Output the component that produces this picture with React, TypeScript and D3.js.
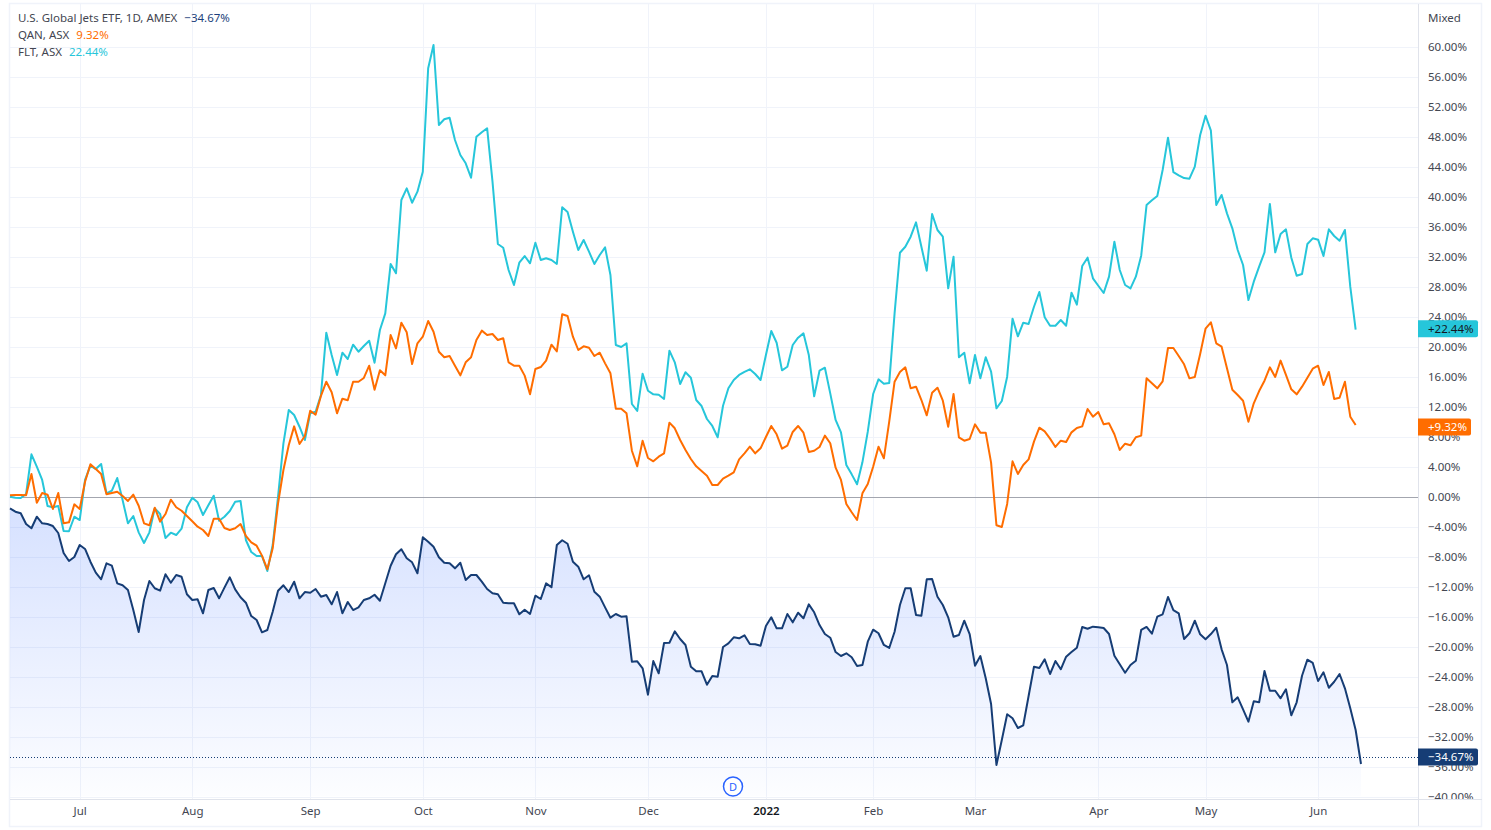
import React, { useEffect, useRef } from "react";
import * as d3 from "d3";

// percent change per trading day
const jetsValues = [
  -1.51, -1.96, -2.17, -3.6, -4.17, -2.63, -3.51, -3.6, -3.87, -4.8, -7.47, -8.53, -8.0, -6.4, -6.93, -8.63,
  -10.09, -10.97, -8.84, -9.16, -11.51, -11.77, -12.4, -15.07, -18.0, -13.73, -11.2, -12.17, -12.49, -10.31, -11.43, -10.4,
  -10.63, -12.97, -13.73, -13.64, -15.51, -12.4, -12.13, -13.51, -12.09, -10.71, -12.31, -13.37, -14.09, -15.87, -16.4, -18.04,
  -17.73, -15.29, -12.49, -11.77, -12.67, -11.29, -13.51, -12.67, -12.76, -12.27, -13.29, -13.07, -14.31, -12.67, -15.51, -14.0,
  -15.07, -14.71, -13.73, -13.51, -13.03, -13.83, -11.51, -9.16, -7.64, -6.97, -8.17, -8.71, -10.17, -5.37, -5.96, -6.63,
  -8.04, -8.76, -8.84, -9.51, -8.76, -11.07, -10.4, -10.4, -11.29, -12.27, -12.84, -12.97, -14.09, -14.17, -14.17, -15.64,
  -15.03, -15.6, -13.16, -13.6, -11.51, -12.04, -6.4, -5.77, -6.23, -8.63, -9.29, -10.97, -10.44, -12.63, -13.29, -14.71,
  -16.09, -15.6, -15.96, -15.91, -21.96, -21.91, -22.84, -26.36, -21.87, -23.51, -19.47, -19.43, -17.91, -18.93, -19.73, -22.63,
  -23.24, -23.24, -25.03, -23.87, -23.96, -20.0, -19.51, -18.71, -18.84, -18.44, -19.6, -19.64, -19.83, -17.2, -16.04, -17.51,
  -17.51, -15.6, -16.71, -15.43, -16.17, -14.31, -15.37, -17.07, -18.27, -18.76, -20.67, -21.2, -20.84, -21.37, -22.53, -22.4,
  -19.29, -17.69, -18.17, -19.73, -20.13, -17.96, -14.4, -12.17, -12.17, -15.73, -15.83, -10.97, -10.93, -13.29, -14.4, -16.04,
  -18.63, -18.4, -16.49, -18.27, -22.49, -21.2, -24.17, -27.6, -35.73, -32.4, -28.97, -29.51, -30.8, -30.44, -26.53, -22.63,
  -22.8, -21.64, -23.6, -21.87, -22.97, -21.29, -20.67, -20.09, -17.33, -17.56, -17.29, -17.37, -17.47, -18.27, -21.16, -22.31,
  -23.43, -22.4, -21.83, -17.73, -17.33, -18.23, -15.96, -15.64, -13.33, -15.07, -15.51, -18.93, -18.17, -16.49, -18.31, -18.97,
  -18.27, -17.43, -20.31, -22.4, -27.37, -26.71, -28.31, -29.96, -27.24, -27.37, -23.2, -25.83, -25.83, -26.84, -25.64, -29.11,
  -27.37, -23.83, -21.69, -22.13, -24.53, -23.37, -25.43, -24.63, -23.6, -25.51, -28.17, -31.07, -35.6,
];

const qanValues = [
  0.22, 0.27, 0.27, 0.22, 3.07, -0.76, 0.53, 0.31, -1.6, 0.53, -3.51, -3.38, -0.98, -1.6, 2.04, 4.36,
  3.73, 3.07, 0.36, 0.53, 0.71, 0.13, -0.53, 0.31, -1.16, -3.51, -3.77, -1.43, -3.29, -2.27, -0.36, -1.37,
  -1.83, -2.53, -3.24, -3.96, -4.4, -5.2, -2.89, -2.89, -4.13, -4.4, -4.17, -3.6, -5.2, -6.04, -6.49, -7.82,
  -9.64, -6.84, -0.84, 3.6, 6.93, 9.42, 7.07, 8.13, 11.51, 10.97, 13.47, 15.37, 13.96, 11.16, 13.11, 12.89,
  15.37, 15.37, 15.87, 17.51, 14.31, 16.89, 16.22, 21.6, 19.82, 23.24, 21.96, 17.73, 20.49, 21.37, 23.47, 22.04,
  19.37, 18.63, 18.8, 17.51, 16.22, 17.96, 18.63, 20.93, 22.18, 21.6, 21.73, 20.93, 21.16, 17.96, 17.51, 17.51,
  16.18, 13.69, 17.07, 17.33, 18.18, 20.31, 19.42, 24.36, 24.13, 21.37, 19.6, 20.09, 19.91, 18.8, 19.24, 17.82,
  16.49, 11.78, 11.78, 11.16, 6.17, 4.09, 7.51, 5.2, 4.76, 5.38, 5.82, 9.91, 9.16, 7.6, 6.27, 5.07,
  4.09, 3.47, 2.84, 1.6, 1.6, 2.44, 2.84, 3.29, 5.02, 5.82, 6.71, 5.82, 6.49, 8.0, 9.47, 8.36,
  6.44, 6.84, 8.67, 9.47, 8.58, 6.0, 6.17, 6.67, 8.18, 7.16, 3.91, 2.27, -0.93, -2.04, -3.07, 0.49,
  1.73, 4.04, 6.71, 5.16, 10.04, 15.37, 16.67, 17.29, 14.49, 14.71, 12.93, 10.89, 13.91, 14.57, 12.84, 9.37,
  13.73, 7.96, 7.51, 7.73, 9.69, 8.58, 8.58, 4.58, -3.77, -4.0, -0.93, 4.76, 3.07, 4.27, 5.02, 7.38,
  9.24, 8.76, 7.78, 6.67, 7.51, 7.33, 8.62, 9.2, 9.42, 11.73, 10.71, 11.33, 9.69, 9.82, 8.36, 6.27,
  7.11, 6.89, 7.96, 8.18, 15.82, 15.16, 14.49, 15.42, 19.87, 19.87, 18.8, 17.69, 15.82, 16.0, 19.07, 22.44,
  23.29, 20.49, 20.04, 17.16, 14.31, 13.6, 12.84, 10.04, 12.49, 14.13, 15.51, 17.29, 16.0, 18.18, 16.27, 14.36,
  13.69, 14.71, 15.91, 17.11, 17.51, 14.93, 16.67, 13.07, 13.24, 15.37, 10.71, 9.6,
];

const fltValues = [
  0.04, -0.09, -0.13, 0.4, 5.69, 4.04, 2.27, -1.2, -1.37, -1.2, -4.53, -4.57, -2.63, -3.07, 2.27, 4.17,
  3.73, 4.4, 0.49, 0.84, 2.53, -0.4, -3.51, -2.53, -4.71, -6.13, -4.71, -1.51, -2.27, -5.47, -4.76, -5.07,
  -4.23, -1.37, -0.09, -0.71, -2.4, -1.11, 0.17, -3.16, -2.63, -1.87, -0.63, -0.53, -5.73, -7.33, -7.87, -7.87,
  -9.87, -6.4, 0.04, 7.16, 11.6, 10.93, 9.37, 7.6, 11.16, 11.37, 13.6, 21.91, 18.93, 16.27, 19.24, 18.4,
  20.31, 19.37, 20.13, 20.84, 17.91, 22.27, 24.49, 31.07, 29.83, 39.6, 41.16, 39.24, 40.71, 43.37, 57.16, 60.27,
  49.6, 50.36, 50.57, 47.6, 45.6, 44.49, 42.57, 48.04, 48.63, 49.16, 42.04, 33.73, 33.24, 30.27, 28.27, 31.24,
  32.13, 31.16, 33.91, 31.6, 31.83, 31.6, 31.07, 38.63, 38.0, 35.37, 32.93, 34.27, 32.71, 31.07, 32.27, 33.29,
  29.6, 20.27, 20.0, 20.49, 12.4, 11.47, 16.44, 14.17, 13.69, 13.64, 13.07, 19.51, 17.96, 15.07, 16.63, 15.91,
  12.93, 12.13, 10.4, 9.47, 7.96, 12.17, 14.49, 15.6, 16.27, 16.67, 17.03, 16.4, 15.6, 18.93, 22.13, 20.57,
  16.89, 17.37, 20.27, 21.24, 21.82, 18.93, 13.42, 16.84, 17.24, 13.82, 10.27, 8.62, 4.27, 3.02, 1.69, 4.62,
  8.71, 13.73, 15.69, 15.11, 15.2, 24.49, 32.57, 33.37, 34.71, 36.62, 33.37, 30.17, 37.73, 35.6, 34.71, 27.82,
  32.04, 18.63, 19.24, 15.16, 18.93, 15.82, 18.63, 16.71, 11.82, 12.8, 16.04, 23.78, 21.42, 23.24, 23.07, 25.37,
  27.33, 23.96, 22.84, 22.84, 23.6, 22.84, 27.24, 25.64, 30.8, 31.91, 29.16, 28.17, 27.2, 29.38, 34.04, 30.27,
  28.27, 27.82, 29.38, 32.18, 38.93, 39.56, 40.13, 43.6, 47.91, 43.33, 42.89, 42.53, 42.44, 44.04, 48.27, 50.84,
  48.84, 38.93, 40.27, 37.82, 35.82, 32.93, 30.93, 26.27, 28.71, 30.71, 32.62, 39.07, 32.62, 35.07, 35.69, 31.91,
  29.51, 29.73, 33.73, 34.49, 34.31, 32.13, 35.69, 34.8, 34.17, 35.6, 28.04, 22.31,
];

const priceTicks = [60, 56, 52, 48, 44, 40, 36, 32, 28, 24, 20, 16, 12, 8, 4, 0, -4, -8, -12, -16, -20, -24, -28, -32, -36, -40];
const timeIndexes = [13, 34, 56, 77, 98, 119, 141, 161, 180, 203, 223, 244];
const timeLabels = ["Jul", "Aug", "Sep", "Oct", "Nov", "Dec", "2022", "Feb", "Mar", "Apr", "May", "Jun"];

const seriesLegend = [
  { name: "U.S. Global Jets ETF, 1D, AMEX", text: "\u221234.67%", color: "#1c3f7c", last: -34.67, tag: "\u221234.67%", tagRight: 1478, tagText: "#fff", tagFill: "#163d75" },
  { name: "QAN, ASX", text: "9.32%", color: "#ff6d00", last: 9.32, tag: "+9.32%", tagRight: 1471, tagText: "#fff", tagFill: "#ff6d00" },
  { name: "FLT, ASX", text: "22.44%", color: "#26c6da", last: 22.44, tag: "+22.44%", tagRight: 1478, tagText: "#131722", tagFill: "#26c6da" },
];

const WIDTH = 1491;
const HEIGHT = 830;
const FONT = "'Noto Sans', sans-serif";
const plotLeft = 10;
const plotRight = 1418;
const plotBottom = 799;

export default function App() {
  const axisRef = useRef<SVGGElement>(null);
  const timeRef = useRef<SVGGElement>(null);

  const x = d3.scaleLinear().domain([0, 252]).range([10, 1361]);
  const y = d3.scaleLinear().domain([0, 60]).range([497, 47]);

  useEffect(() => {
    const axis = d3
      .axisRight(y)
      .tickValues(priceTicks)
      .tickSize(0)
      .tickPadding(10)
      .tickFormat((d: any) => `${d < 0 ? "\u2212" : ""}${Math.abs(d).toFixed(2)}%`);
    const g = d3.select(axisRef.current).call(axis as any);
    g.select(".domain").remove();
    g.selectAll("text").attr("fill", "#434651").style("font", `11.5px ${FONT}`);

    const timeAxis = d3
      .axisBottom(x)
      .tickValues(timeIndexes)
      .tickSize(0)
      .tickPadding(8)
      .tickFormat((_: any, i: number) => timeLabels[i]);
    const t = d3.select(timeRef.current).call(timeAxis as any);
    t.select(".domain").remove();
    t.selectAll("text")
      .attr("fill", (_: any, i: number) => (timeLabels[i] === "2022" ? "#131722" : "#434651"))
      .style("font", (_: any, i: number) => `${timeLabels[i] === "2022" ? "600 " : ""}11.5px ${FONT}`);
  }, []);

  const line = d3
    .line<number>()
    .x((_, i) => x(i))
    .y((d) => y(d));
  const area = d3
    .area<number>()
    .x((_, i) => x(i))
    .y0(plotBottom - 3)
    .y1((d) => y(d));

  return (
    <svg width={WIDTH} height={HEIGHT} style={{ position: "fixed", left: 0, top: 0, background: "#fff" }}>
      <defs>
        <linearGradient id="jetsFill" gradientUnits="userSpaceOnUse" x1="0" x2="0" y1={y(-1.5)} y2={plotBottom}>
          <stop offset="0" stopColor="#2962ff" stopOpacity={0.19} />
          <stop offset="1" stopColor="#2962ff" stopOpacity={0.01} />
        </linearGradient>
        <clipPath id="axisClip">
          <rect x={plotRight} y={4} width={64} height={plotBottom - 4} />
        </clipPath>
      </defs>

      {/* frame */}
      <rect x={9.5} y={3.5} width={1472} height={823} fill="none" stroke="#f0f3fa" strokeWidth={1.5} />

      {/* grid */}
      {priceTicks.map((d) => (
        <line key={d} x1={plotLeft} x2={plotRight} y1={Math.round(y(d)) + 0.5} y2={Math.round(y(d)) + 0.5} stroke="#f0f3fa" />
      ))}
      {timeIndexes.map((d) => (
        <line key={d} x1={Math.round(x(d)) + 0.5} x2={Math.round(x(d)) + 0.5} y1={4} y2={plotBottom} stroke="#f0f3fa" />
      ))}

      <path d={area(jetsValues) ?? ""} fill="url(#jetsFill)" />
      <line x1={plotLeft} x2={plotRight} y1={y(0) + 0.5} y2={y(0) + 0.5} stroke="#a3a6af" />
      <line x1={plotLeft} x2={plotRight} y1={Math.round(y(-34.67)) + 0.5} y2={Math.round(y(-34.67)) + 0.5} stroke="#163d75" strokeDasharray="1 2" />

      <path d={line(fltValues) ?? ""} fill="none" stroke="#26c6da" strokeWidth={2} strokeLinejoin="round" />
      <path d={line(jetsValues) ?? ""} fill="none" stroke="#163d75" strokeWidth={2} strokeLinejoin="round" />
      <path d={line(qanValues) ?? ""} fill="none" stroke="#ff6d00" strokeWidth={2} strokeLinejoin="round" />

      {/* dividend marker */}
      <circle cx={733} cy={786.5} r={9.5} fill="#fff" stroke="#2962ff" strokeWidth={1.5} />
      <text x={733} y={790.5} textAnchor="middle" fill="#2962ff" style={{ font: `11px ${FONT}` }}>D</text>

      {/* axes */}
      <line x1={plotLeft} x2={1482} y1={plotBottom + 0.5} y2={plotBottom + 0.5} stroke="#e0e3eb" />
      <line x1={plotRight + 0.5} x2={plotRight + 0.5} y1={4} y2={826} stroke="#e0e3eb" />
      <g clipPath="url(#axisClip)">
        <g ref={axisRef} transform={`translate(${plotRight},0)`} />
      </g>
      <g ref={timeRef} transform={`translate(0,${plotBottom})`} />
      <text x={1428} y={22} fill="#434651" style={{ font: `11.5px ${FONT}` }}>Mixed</text>

      {/* last value tags */}
      {seriesLegend.map((s) => {
        const cy = y(s.last);
        return (
          <g key={s.name}>
            <path
              d={`M${plotRight},${cy - 8.5}H${s.tagRight - 2}Q${s.tagRight},${cy - 8.5} ${s.tagRight},${cy - 6.5}V${cy + 6.5}Q${s.tagRight},${cy + 8.5} ${s.tagRight - 2},${cy + 8.5}H${plotRight}Z`}
              fill={s.tagFill}
            />
            <text x={1428} y={cy + 4} fill={s.tagText} style={{ font: `11.5px ${FONT}` }}>{s.tag}</text>
          </g>
        );
      })}

      {/* legend */}
      {seriesLegend.map((s, i) => (
        <text key={s.name} x={18} y={22 + i * 17} fill="#434651" style={{ font: `11.5px ${FONT}` }}>
          {s.name}
          <tspan dx={7} fill={s.color}>{s.text}</tspan>
        </text>
      ))}
    </svg>
  );
}
